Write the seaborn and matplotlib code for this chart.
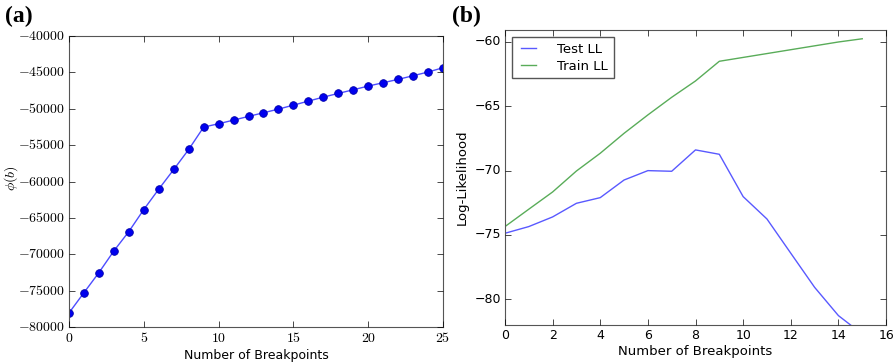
import numpy as np
import pandas as pd
import matplotlib
matplotlib.use("Agg")
import matplotlib.pyplot as plt
import seaborn as sns

# ---- data ----
bp_a = list(range(0, 26))
phi_b = [-78070, -75280, -72520, -69540, -66880, -63850, -61050, -58350, -55600,
         -52520, -52060, -51560, -51050, -50550, -50050, -49500, -48950, -48400,
         -47890, -47390, -46880, -46420, -45960, -45460, -44950, -44360]

bp_b = list(range(0, 16))
test_ll = [-74.87, -74.35, -73.6, -72.54, -72.1, -70.73, -70.0, -70.05, -68.39,
           -68.73, -72.02, -73.76, -76.42, -79.07, -81.27, -82.7]
train_ll = [-74.35, -73.0, -71.66, -70.03, -68.65, -67.1, -65.67, -64.3, -63.03,
            -61.5, -61.2, -60.9, -60.6, -60.3, -60.0, -59.75]

xticks_a = [0, 5, 10, 15, 20, 25]
yticks_a = [-80000, -75000, -70000, -65000, -60000, -55000, -50000, -45000, -40000]
xticks_b = [0, 2, 4, 6, 8, 10, 12, 14, 16]
yticks_b = [-80, -75, -70, -65, -60]

plt.style.use("classic")
plt.rcParams["mathtext.fontset"] = "cm"
fig = plt.figure(figsize=(8.95, 3.63), dpi=100)
fig.patch.set_facecolor("white")

axa = fig.add_axes([0.0771, 0.0992, 0.4179, 0.8016])
axb = fig.add_axes([0.5642, 0.1047, 0.4258, 0.8126])

dfa = pd.DataFrame({"bp": bp_a, "phi": phi_b})
sns.lineplot(data=dfa, x="bp", y="phi", ax=axa, color=(0.3, 0.3, 1.0), lw=1.0,
             marker="o", markersize=5.5, markerfacecolor="#0000ee",
             markeredgecolor="#0000aa", markeredgewidth=0.6)
axa.set_xlim(0, 25)
axa.set_ylim(-80000, -40000)
axa.set_xticks(xticks_a)
axa.set_yticks(yticks_a)
axa.set_xticklabels(["$%d$" % v for v in xticks_a], fontsize=10)
axa.set_yticklabels(["$%d$" % v for v in yticks_a], fontsize=10)
axa.set_xlabel("Number of Breakpoints", fontsize=9, family="DejaVu Sans", labelpad=3)
axa.set_ylabel(r"$\phi(b)$", fontsize=10)
axa.yaxis.set_label_coords(-0.131, 0.51)

dfb = pd.DataFrame({"bp": bp_b * 2, "ll": test_ll + train_ll,
                    "series": ["Test LL"] * len(bp_b) + ["Train LL"] * len(bp_b)})
sns.lineplot(data=dfb, x="bp", y="ll", hue="series", ax=axb,
             palette={"Test LL": (0.0, 0.0, 1.0), "Train LL": (0.0, 0.5, 0.0)},
             lw=1.0, alpha=0.65)
axb.set_xlim(0, 16)
axb.set_ylim(-82, -59.07)
axb.set_xticks(xticks_b)
axb.set_yticks(yticks_b)
axb.set_yticklabels(["\u2212" + str(abs(v)) for v in yticks_b])
axb.tick_params(labelsize=9)
axb.set_xlabel("Number of Breakpoints", fontsize=9.5, labelpad=2)
axb.set_ylabel("Log-Likelihood", fontsize=9.5, labelpad=4)
leg = axb.legend(loc="upper left", fontsize=9.5, frameon=True, fancybox=False,
                 handlelength=1.7, handletextpad=1.3, borderpad=0.45, labelspacing=0.3)
leg.get_frame().set_edgecolor("#555555")

for ax in (axa, axb):
    ax.tick_params(direction="in", top=True, right=True, length=4, width=0.5, pad=3)
    for s in ax.spines.values():
        s.set_color("#555555")
        s.set_linewidth(0.8)

fig.text(0.006, 0.985, "(a)", fontsize=17, fontweight="bold",
         family="Liberation Serif", va="top", ha="left")
fig.text(0.505, 0.985, "(b)", fontsize=17, fontweight="bold",
         family="Liberation Serif", va="top", ha="left")

fig.savefig("out.png", dpi=100, facecolor="white")
